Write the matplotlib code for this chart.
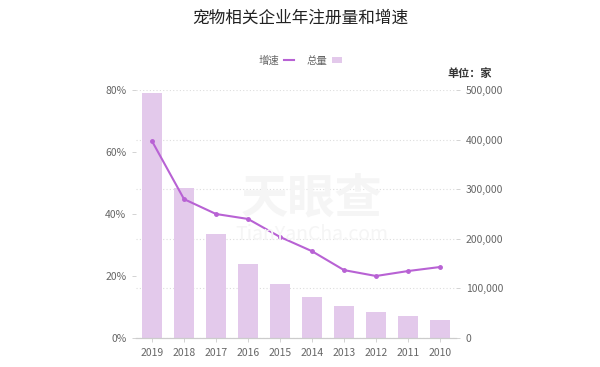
import matplotlib.pyplot as plt
import matplotlib.ticker as mticker
from matplotlib.lines import Line2D
import numpy as np

plt.rcParams['font.family'] = ['Noto Sans CJK SC', 'DejaVu Sans']

years = ["2010", "2011", "2012", "2013", "2014", "2015", "2016", "2017", "2018", "2019"]
totals = [36000, 44000, 52000, 64000, 83000, 109000, 149000, 210000, 302000, 494000]
growth = [22.9, 21.6, 20.0, 21.9, 28.0, 32.6, 38.4, 40.0, 44.8, 63.5]

BAR_COLOR = "#e3c9eb"
LINE_COLOR = "#b862d4"
TEXT_COLOR = "#666666"

fig = plt.figure(figsize=(6, 3.67), dpi=100)
ax = fig.add_axes([0.2267, 0.079, 0.5333, 0.6758])
x = np.arange(len(years))

# faint watermark
fig.text(0.52, 0.46, "天眼查", fontsize=34, color="#f5f5f5", ha="center", va="center",
         fontweight="bold", zorder=0)
fig.text(0.52, 0.36, "TianYanCha.com", fontsize=14, color="#f5f5f5", ha="center",
         va="center", zorder=0)

bars = ax.bar(x, totals, width=0.6, color=BAR_COLOR, zorder=2, label="总量")
ax.set_ylim(0, 500000)
ax.set_xlim(-0.5, len(years) - 0.5)
ax.invert_xaxis()
ax.yaxis.set_major_locator(mticker.MultipleLocator(100000))
ax.yaxis.set_major_formatter(mticker.FuncFormatter(lambda v, p: f"{int(v):,}"))
ax.grid(axis="y", color="#dddddd", linestyle=(0, (1, 2)), linewidth=0.8, zorder=0)
ax.set_xticks(x)
ax.set_xticklabels(years)
ax.patch.set_alpha(0)

ax2 = ax.twinx()
ax2.plot(x, growth, color=LINE_COLOR, linewidth=1.5, marker="o",
         markersize=2.5, zorder=3)
ax2.set_ylim(0, 80)
ax2.yaxis.set_major_locator(mticker.MultipleLocator(20))
ax2.yaxis.set_major_formatter(mticker.FuncFormatter(lambda v, p: f"{int(v)}%"))

# counts on the right, percent on the left
ax.yaxis.tick_right()
ax2.yaxis.tick_left()

for a in (ax, ax2):
    for s in ("top", "left", "right"):
        a.spines[s].set_visible(False)
    a.spines["bottom"].set_color("#cccccc")
    a.tick_params(axis="both", labelsize=7.5, colors=TEXT_COLOR, length=3,
                  width=0.6, pad=4)
    a.tick_params(axis="both", color="#cccccc")

fig.suptitle("宠物相关企业年注册量和增速", x=0.5, y=0.975, fontsize=12, color="#222222")

line_handle = Line2D([], [], color=LINE_COLOR, linewidth=1.5, label="增速")
fig.legend(handles=[line_handle, bars], loc="center", bbox_to_anchor=(0.5, 0.835),
           ncol=2, frameon=False, fontsize=7.5, markerfirst=False,
           handlelength=0.9, handleheight=0.6, handletextpad=0.5, columnspacing=1.2,
           labelcolor=TEXT_COLOR)

fig.text(0.82, 0.80, "单位：家", fontsize=8, color="#333333", ha="right", va="center",
         fontweight="bold")

fig.savefig("out.png", dpi=100)
